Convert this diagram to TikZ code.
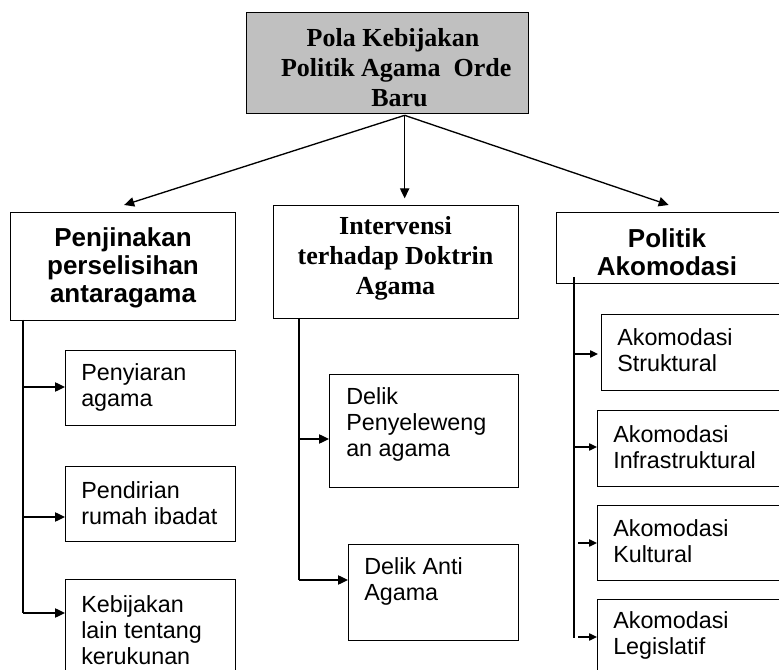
\documentclass[tikz,border=0pt]{standalone}
\usepackage{fontspec}
\setmainfont{Liberation Serif}
\setsansfont{Liberation Sans}
\usetikzlibrary{arrows.meta,calc}
\tikzset{
  box/.style={draw=black, line width=1pt, rectangle, anchor=north west, inner sep=0pt},
  conn/.style={draw=black, line width=1pt},
  arr/.style={conn, -{Triangle[length=7.5pt,width=7pt]}},
  sarr/.style={conn, -{Triangle[length=6pt,width=5.5pt]}},
  sertxt/.style={font=\rmfamily\bfseries\fontsize{19.5}{22.5}\selectfont, align=center, inner sep=0pt},
  hdtxt/.style={font=\sffamily\bfseries\fontsize{19.5}{21}\selectfont, align=center, inner sep=0pt},
  ctxt/.style={font=\sffamily\fontsize{17.5}{19.5}\selectfont, align=left, anchor=west, inner sep=0pt},
}
\begin{document}
\begin{tikzpicture}[x=0.75pt,y=-0.75pt]
\useasboundingbox (0,0) rectangle (779,670);
\clip (0,0) rectangle (779,670);
% top box
\node[box, fill={rgb,255:red,192;green,192;blue,192}, minimum width={282*0.75pt}, minimum height={101*0.75pt}] (top) at (246,12) {};
\node[sertxt] (toptxt) at (393,68) {Pola Kebijakan\\ \ Politik Agama\ \ Orde\\ \ \ Baru};
% headers
\node[box, minimum width={225*0.75pt}, minimum height={108*0.75pt}] (h1) at (10,212) {};
\node[hdtxt] (h1txt) at (123,268) {Penjinakan\\perselisihan\\antaragama};
\node[box, minimum width={245*0.75pt}, minimum height={113*0.75pt}] (h2) at (273,205) {};
\node[sertxt] (h2txt) at (395.5,258) {Intervensi\\terhadap Doktrin\\Agama};
\node[box, minimum width={240*0.75pt}, minimum height={71*0.75pt}] (h3) at (556,212) {};
\node[hdtxt] (h3txt) at (667,252) {Politik\\Akomodasi};
% top arrows
\coordinate (O) at ($(top.south)+(17,1)$);
\coordinate (E1) at ($(h1.north)+(1,-7)$);
\coordinate (E2) at (O |- h2.north);
\coordinate (E3) at ($(h3.north)+(-8,-7)$);
\draw[arr] (O) -- (E1);
\draw[arr, shorten >=5pt] (O) -- (E2);
\draw[arr] (O) -- (E3);
% left children
\node[box, minimum width={170*0.75pt}, minimum height={75*0.75pt}] (a1) at (65,350) {};
\node[ctxt] (a1t) at (81,387) {Penyiaran\\agama};
\node[box, minimum width={170*0.75pt}, minimum height={75*0.75pt}] (a2) at (65,466) {};
\node[ctxt] (a2t) at (81,503) {Pendirian\\rumah ibadat};
\node[box, minimum width={170*0.75pt}, minimum height={110*0.75pt}] (a3) at (65,579) {};
\node[ctxt] (a3t) at (81,630) {Kebijakan\\lain tentang\\kerukunan};
\coordinate (L0) at (23,320);
\coordinate (L1) at (23,613);
\draw[conn] (L0) -- (L1);
\coordinate (pa1) at ($(a1.north west)+(0,37)$);
\coordinate (pa2) at ($(a2.north west)+(0,51)$);
\coordinate (pa3) at ($(a3.north west)+(0,34)$);
\draw[arr] (pa1 -| L0) -- (pa1);
\draw[arr] (pa2 -| L0) -- (pa2);
\draw[arr] (pa3 -| L0) -- (pa3);
% middle children
\node[box, minimum width={189*0.75pt}, minimum height={113*0.75pt}] (b1) at (329,374) {};
\node[ctxt] (b1t) at (346,424) {Delik\\Penyeleweng\\an agama};
\node[box, minimum width={170*0.75pt}, minimum height={96*0.75pt}] (b2) at (348,544) {};
\node[ctxt] (b2t) at (364,581) {Delik Anti\\Agama};
\coordinate (M0) at (299,318);
\coordinate (M1) at (299,580);
\draw[conn] (M0) -- (M1);
\coordinate (pb1) at ($(b1.north west)+(0,65)$);
\coordinate (pb2) at ($(b2.north west)+(0,36)$);
\draw[arr] (pb1 -| M0) -- (pb1);
\draw[arr] (pb2 -| M0) -- (pb2);
% right children
\node[box, minimum width={200*0.75pt}, minimum height={76*0.75pt}] (c1) at (601,314) {};
\node[ctxt] (c1t) at (617,350) {Akomodasi\\Struktural};
\node[box, minimum width={200*0.75pt}, minimum height={76*0.75pt}] (c2) at (597,410) {};
\node[ctxt] (c2t) at (613,447) {Akomodasi\\Infrastruktural};
\node[box, minimum width={200*0.75pt}, minimum height={75*0.75pt}] (c3) at (597,505) {};
\node[ctxt] (c3t) at (613,541) {Akomodasi\\Kultural};
\node[box, minimum width={200*0.75pt}, minimum height={90*0.75pt}] (c4) at (597,599) {};
\node[ctxt] (c4t) at (613,635) {Akomodasi\\Legislatif};
\coordinate (R0) at (574,277);
\coordinate (R1) at (574,638);
\draw[conn] (R0) -- (R1);
\coordinate (pc1) at ($(c1.north west)+(-3,40)$);
\coordinate (pc2) at ($(c2.north west)+(0,37)$);
\coordinate (pc3) at ($(c3.north west)+(0,38)$);
\coordinate (pc4) at ($(c4.north west)+(0,38)$);
\draw[sarr] (pc1 -| R0) -- (pc1);
\draw[sarr] (pc2 -| R0) -- (pc2);
\draw[sarr] ($(pc3 -| R0)+(4,0)$) -- (pc3);
\draw[sarr] ($(pc4 -| R0)+(4,0)$) -- (pc4);
\end{tikzpicture}
\end{document}
